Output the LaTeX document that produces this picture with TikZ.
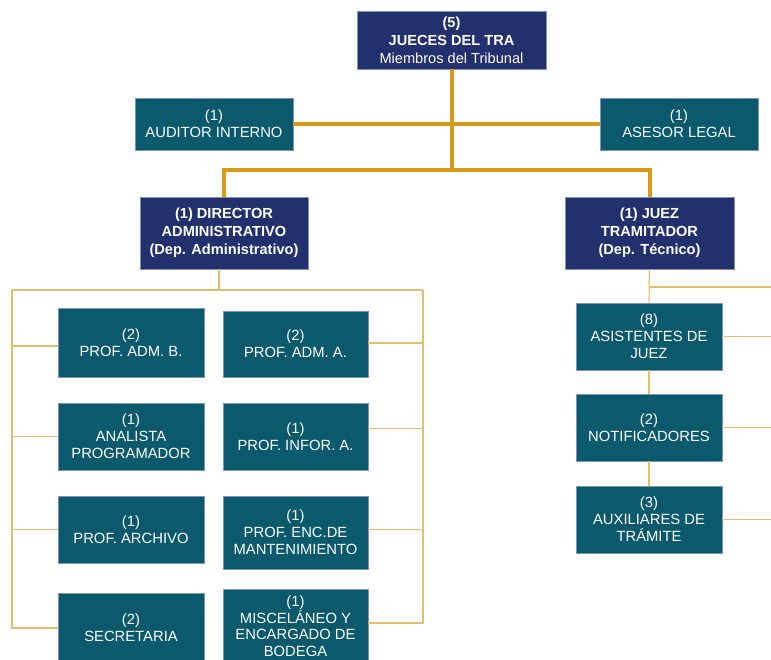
\documentclass[tikz,border=0pt]{standalone}
\usepackage{fontspec}
\setmainfont{Liberation Sans}
\usetikzlibrary{calc}
\definecolor{navy}{HTML}{23306E}
\definecolor{teal}{HTML}{0B596C}
\definecolor{boxedge}{HTML}{7F93B3}
\definecolor{thickor}{HTML}{D99A1C}
\definecolor{thinor}{HTML}{E4BE6A}
\tikzset{
  navybox/.style={fill=navy, draw=boxedge, line width=0.8pt, text=white, align=center, inner sep=0pt,
    font=\fontsize{14.6}{18}\selectfont\bfseries},
  tealbox/.style={fill=teal, draw=boxedge, line width=0.8pt, text=white, align=center, inner sep=0pt,
    font=\fontsize{14.8}{17}\selectfont},
  thickline/.style={draw=thickor, line width=4pt},
  thinline/.style={draw=thinor, line width=1.2pt},
}
\begin{document}
\begin{tikzpicture}[x=1pt,y=-1pt]
\useasboundingbox (0,0) rectangle (771,660);
\clip (0,0) rectangle (771,660);
\fill[white] (0,0) rectangle (771,660);

% top level
\node[navybox, minimum width=189pt, minimum height=58pt] (jueces) at (451.5,40)
  {(5)\\JUECES DEL TRA\\\mdseries Miembros del Tribunal};
\node[tealbox, minimum width=158pt, minimum height=52pt] (auditor) at (214,124) {(1)\\AUDITOR INTERNO};
\node[tealbox, minimum width=158pt, minimum height=52pt] (asesor) at (679,124) {(1)\\ASESOR LEGAL};
\node[navybox, minimum width=168pt, minimum height=72pt] (director) at (224,233)
  {(1) DIRECTOR\\ADMINISTRATIVO\\(Dep. Administrativo)};
\node[navybox, minimum width=169pt, minimum height=72pt] (juez) at (649.5,233)
  {(1) JUEZ\\TRAMITADOR\\(Dep. Técnico)};

% administrative department
\node[tealbox, minimum width=146pt, minimum height=69pt] (admb) at (131,342.5) {(2)\\PROF. ADM. B.};
\node[tealbox, minimum width=145pt, minimum height=66pt] (adma) at (295.5,344) {(2)\\PROF. ADM. A.};
\node[tealbox, minimum width=146pt, minimum height=67pt] (analista) at (131,436.5) {(1)\\ANALISTA\\PROGRAMADOR};
\node[tealbox, minimum width=145pt, minimum height=67pt] (infor) at (295.5,436.5) {(1)\\PROF. INFOR. A.};
\node[tealbox, minimum width=146pt, minimum height=67pt] (archivo) at (131,529.5) {(1)\\PROF. ARCHIVO};
\node[tealbox, minimum width=145pt, minimum height=73pt] (enc) at (295.5,532.5) {(1)\\PROF. ENC.DE\\MANTENIMIENTO};
\node[tealbox, minimum width=146pt, minimum height=70pt] (secre) at (131,628) {(2)\\SECRETARIA};
\node[tealbox, minimum width=145pt, minimum height=74pt, font=\fontsize{14.8}{16.5}\selectfont] (misc) at (295.5,626)
  {(1)\\MISCELÁNEO Y\\ENCARGADO DE\\BODEGA};

% technical department
\node[tealbox, minimum width=146pt, minimum height=67pt] (asist) at (649,336.5) {(8)\\ASISTENTES DE\\JUEZ};
\node[tealbox, minimum width=146pt, minimum height=67pt] (notif) at (649,427.5) {(2)\\NOTIFICADORES};
\node[tealbox, minimum width=146pt, minimum height=67pt] (aux) at (649,519.5) {(3)\\AUXILIARES DE\\TRÁMITE};

% bus coordinates
\coordinate (bus) at (451.5,170);
\coordinate (lb) at (12,290);
\coordinate (rb) at (423,290);
\coordinate (dtap) at (219,290);
\coordinate (jbr) at (780,287);

% thick connectors
\draw[thickline] (jueces.south) -- (bus);
\draw[thickline] (auditor.east) -- (asesor.west);
\draw[thickline] (director.north) |- (bus) -| (juez.north);

% thin connectors, administrative
\draw[thinline] (dtap |- director.south) -- (dtap);
\draw[thinline] (lb) -- (rb);
\draw[thinline] (secre.west) -| (lb);
\draw[thinline] ([yshift=3pt]misc.east) -| (rb);
\draw[thinline] ([yshift=-3.5pt]admb.west) -- ([yshift=-3.5pt]admb.west -| lb);
\draw[thinline] (analista.west) -- (analista.west -| lb);
\draw[thinline] (archivo.west) -- (archivo.west -| lb);
\draw[thinline] ([yshift=1pt]adma.east) -- ([yshift=1pt]adma.east -| rb);
\draw[thinline] ([yshift=8pt]infor.east) -- ([yshift=8pt]infor.east -| rb);
\draw[thinline] ([yshift=3pt]enc.east) -- ([yshift=3pt]enc.east -| rb);

% thin connectors, technical
\draw[thinline] (juez.south) -- (asist.north);
\draw[thinline] (asist.south) -- (notif.north);
\draw[thinline] (notif.south) -- (aux.north);
\draw[thinline] (jbr -| juez.south) -- (jbr);
\draw[thinline] (asist.east) -- (asist.east -| jbr);
\draw[thinline] (notif.east) -- (notif.east -| jbr);
\draw[thinline] (aux.east) -- (aux.east -| jbr);
\end{tikzpicture}
\end{document}
